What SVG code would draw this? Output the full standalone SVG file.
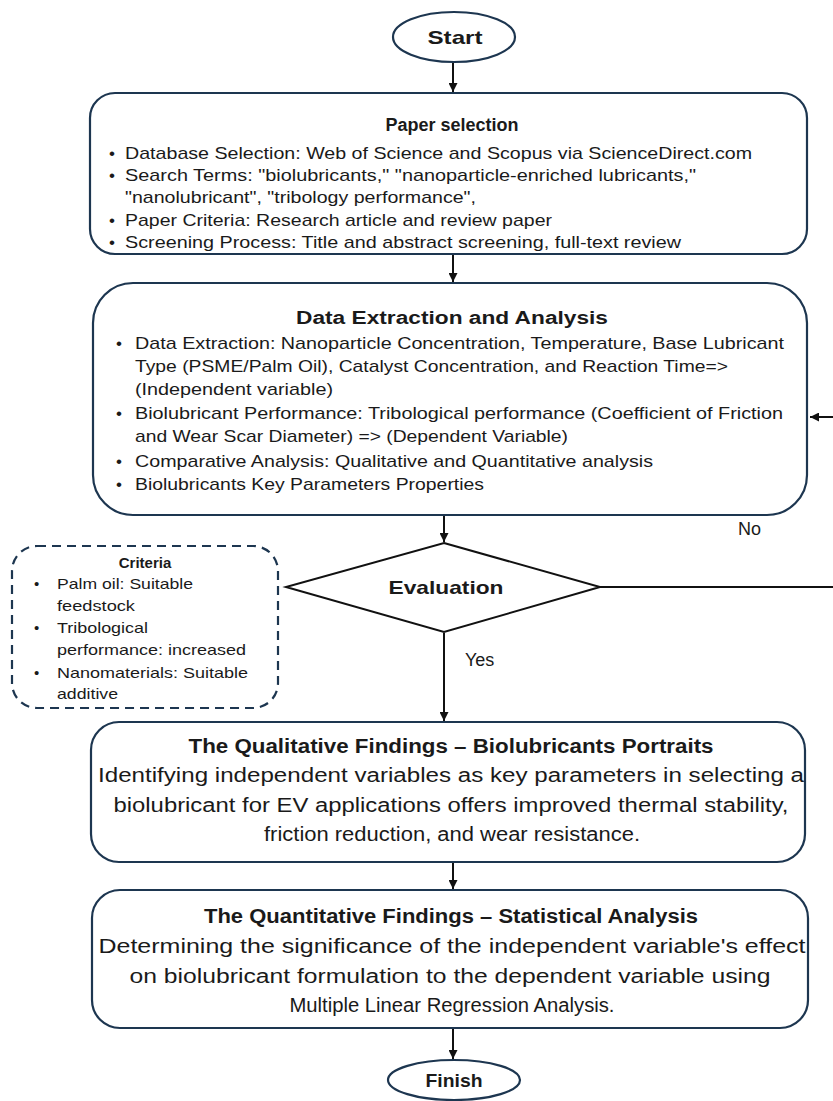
<svg xmlns="http://www.w3.org/2000/svg" width="833" height="1101" viewBox="0 0 833 1101">
<defs>
<marker id="ah" viewBox="0 0 10 10" refX="10" refY="5" markerWidth="9" markerHeight="9" markerUnits="userSpaceOnUse" orient="auto">
<path d="M0,0 L10,5 L0,10 z" fill="#111"/>
</marker>
</defs>
<style>
.box{fill:#fff;stroke:#1d3650;stroke-width:2.2}
.dash{fill:#fff;stroke:#1d3650;stroke-width:2.2;stroke-dasharray:9 6}
.term{fill:#fff;stroke:#1d3650;stroke-width:2.2}
.dia{fill:#fff;stroke:#111;stroke-width:2}
.t{font-family:"Liberation Sans",Arial,sans-serif;fill:#1a1a1a}
.b{font-weight:bold}
.c{text-anchor:middle}
.s17{font-size:17px}
.s20{font-size:20px}
.s15{font-size:15px}
.conn{stroke:#111;stroke-width:2;fill:none}
</style>
<rect width="833" height="1101" fill="#fff"/>

<g id="connectors">
<line class="conn" x1="453" y1="62" x2="453" y2="92" marker-end="url(#ah)"/>
<line class="conn" x1="453" y1="255" x2="453" y2="282" marker-end="url(#ah)"/>
<line class="conn" x1="444" y1="516" x2="444" y2="542" marker-end="url(#ah)"/>
<line class="conn" x1="444" y1="633" x2="444" y2="721" marker-end="url(#ah)"/>
<line class="conn" x1="600" y1="587" x2="833" y2="587"/>
<line class="conn" x1="833" y1="417" x2="810" y2="417" marker-end="url(#ah)"/>
<line class="conn" x1="453" y1="862" x2="453" y2="889" marker-end="url(#ah)"/>
<line class="conn" x1="453" y1="1029" x2="453" y2="1059" marker-end="url(#ah)"/>
<text class="t" x="738" y="535" font-size="18">No</text>
<text class="t" x="465" y="666" font-size="18">Yes</text>
</g>

<g id="start">
<ellipse class="term" cx="454" cy="37" rx="61" ry="25"/>
<text class="t b c" x="455" y="44" font-size="19" textLength="55" lengthAdjust="spacingAndGlyphs">Start</text>
</g>

<g id="paper-selection">
<rect class="box" x="90" y="93" width="717" height="161" rx="25"/>
<text class="t b c" x="452" y="131" font-size="18">Paper selection</text>
<g class="t s17">
<text x="109" y="159">•</text><text x="125" y="159" textLength="627" lengthAdjust="spacingAndGlyphs">Database Selection: Web of Science and Scopus via ScienceDirect.com</text>
<text x="109" y="181">•</text><text x="125" y="181" textLength="571" lengthAdjust="spacingAndGlyphs">Search Terms: "biolubricants," "nanoparticle-enriched lubricants,"</text>
<text x="125" y="203" textLength="351" lengthAdjust="spacingAndGlyphs">"nanolubricant", "tribology performance",</text>
<text x="109" y="226">•</text><text x="125" y="226" textLength="427" lengthAdjust="spacingAndGlyphs">Paper Criteria: Research article and review paper</text>
<text x="109" y="248">•</text><text x="125" y="248" textLength="556" lengthAdjust="spacingAndGlyphs">Screening Process: Title and abstract screening, full-text review</text>
</g>
</g>

<g id="data-extraction">
<rect class="box" x="93" y="283" width="714" height="232" rx="40"/>
<text class="t b c" x="452" y="324" font-size="18" textLength="312" lengthAdjust="spacingAndGlyphs">Data Extraction and Analysis</text>
<g class="t s17">
<text x="116" y="349">•</text><text x="135" y="349" textLength="649" lengthAdjust="spacingAndGlyphs">Data Extraction: Nanoparticle Concentration, Temperature, Base Lubricant</text>
<text x="135" y="372" textLength="593" lengthAdjust="spacingAndGlyphs">Type (PSME/Palm Oil), Catalyst Concentration, and Reaction Time=&gt;</text>
<text x="135" y="395" textLength="198" lengthAdjust="spacingAndGlyphs">(Independent variable)</text>
<text x="116" y="419">•</text><text x="135" y="419" textLength="648" lengthAdjust="spacingAndGlyphs">Biolubricant Performance: Tribological performance (Coefficient of Friction</text>
<text x="135" y="442" textLength="433" lengthAdjust="spacingAndGlyphs">and Wear Scar Diameter) =&gt; (Dependent Variable)</text>
<text x="116" y="467">•</text><text x="135" y="467" textLength="518" lengthAdjust="spacingAndGlyphs">Comparative Analysis: Qualitative and Quantitative analysis</text>
<text x="116" y="490">•</text><text x="135" y="490" textLength="349" lengthAdjust="spacingAndGlyphs">Biolubricants Key Parameters Properties</text>
</g>
</g>

<g id="criteria">
<rect class="dash" x="12" y="546" width="266" height="162" rx="25"/>
<text class="t b c" x="145" y="568" font-size="15">Criteria</text>
<g class="t s15">
<text x="34" y="589">•</text><text x="57" y="589" textLength="136" lengthAdjust="spacingAndGlyphs">Palm oil: Suitable</text>
<text x="57" y="611" textLength="78" lengthAdjust="spacingAndGlyphs">feedstock</text>
<text x="34" y="633">•</text><text x="57" y="633" textLength="91" lengthAdjust="spacingAndGlyphs">Tribological</text>
<text x="57" y="655" textLength="189" lengthAdjust="spacingAndGlyphs">performance: increased</text>
<text x="34" y="678">•</text><text x="57" y="678" textLength="191" lengthAdjust="spacingAndGlyphs">Nanomaterials: Suitable</text>
<text x="57" y="699" textLength="61" lengthAdjust="spacingAndGlyphs">additive</text>
</g>
</g>

<g id="evaluation">
<polygon class="dia" points="444,543 600,587 444,632 286,587"/>
<text class="t b c" x="446" y="594" font-size="19" textLength="115" lengthAdjust="spacingAndGlyphs">Evaluation</text>
</g>

<g id="qualitative">
<rect class="box" x="91" y="722" width="714" height="140" rx="28"/>
<text class="t b c s20" x="451" y="753" textLength="525" lengthAdjust="spacingAndGlyphs">The Qualitative Findings – Biolubricants Portraits</text>
<text class="t c s20" x="451" y="782" textLength="706" lengthAdjust="spacingAndGlyphs">Identifying independent variables as key parameters in selecting a</text>
<text class="t c s20" x="451" y="812" textLength="675" lengthAdjust="spacingAndGlyphs">biolubricant for EV applications offers improved thermal stability,</text>
<text class="t c s20" x="452" y="841" textLength="376" lengthAdjust="spacingAndGlyphs">friction reduction, and wear resistance.</text>
</g>

<g id="quantitative">
<rect class="box" x="92" y="890" width="716" height="138" rx="28"/>
<text class="t b c s20" x="451" y="923" textLength="494" lengthAdjust="spacingAndGlyphs">The Quantitative Findings – Statistical Analysis</text>
<text class="t c s20" x="452" y="953" textLength="707" lengthAdjust="spacingAndGlyphs">Determining the significance of the independent variable's effect</text>
<text class="t c s20" x="450" y="983" textLength="641" lengthAdjust="spacingAndGlyphs">on biolubricant formulation to the dependent variable using</text>
<text class="t c s20" x="452" y="1012" textLength="325" lengthAdjust="spacingAndGlyphs">Multiple Linear Regression Analysis.</text>
</g>

<g id="finish">
<ellipse class="term" cx="454" cy="1080" rx="66" ry="20"/>
<text class="t b c" x="454" y="1087" font-size="19" textLength="57" lengthAdjust="spacingAndGlyphs">Finish</text>
</g>
</svg>
